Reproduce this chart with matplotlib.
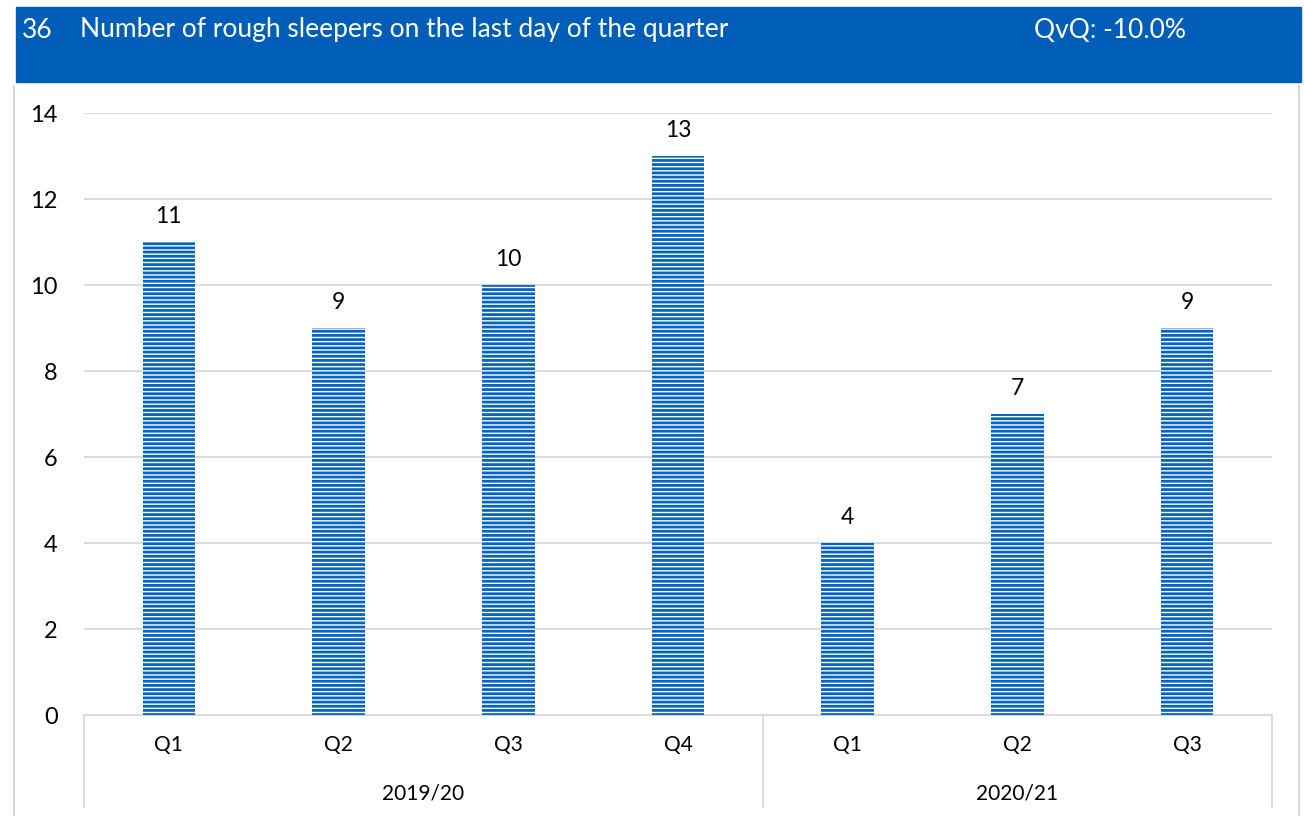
import matplotlib.pyplot as plt
from matplotlib.patches import Rectangle
from matplotlib.lines import Line2D

plt.rcParams['font.family'] = ['Lato', 'DejaVu Sans']
plt.rcParams['hatch.linewidth'] = 2.0

quarters = ['Q1', 'Q2', 'Q3', 'Q4', 'Q1', 'Q2', 'Q3']
years = ['2019/20', '2020/21']
year_sizes = [4, 3]
values = [11, 9, 10, 13, 4, 7, 9]

blue = '#005EB8'
bar_blue = '#0563C1'
grey = '#D9D9D9'

W, H = 1304, 816
fig = plt.figure(figsize=(W / 100, H / 100), dpi=100)

def fx(px):
    return px / W

def fy(py):
    return 1 - py / H

# header band
fig.patches.append(Rectangle((fx(16), fy(82)), fx(1301) - fx(16), fy(7) - fy(82),
                             transform=fig.transFigure, color=blue, zorder=0))
fig.text(fx(22), fy(30), '36', color='white', fontsize=19, va='center', ha='left')
fig.text(fx(80), fy(30), 'Number of rough sleepers on the last day of the quarter',
         color='white', fontsize=19, va='center', ha='left')
fig.text(fx(1034), fy(30), 'QvQ: -10.0%', color='white', fontsize=19, va='center', ha='left')

# chart frame
fig.lines.append(Line2D([fx(14), fx(14)], [fy(86), 0], transform=fig.transFigure, color=grey, lw=1.5))
fig.lines.append(Line2D([fx(1299), fx(1299)], [fy(86), 0], transform=fig.transFigure, color=grey, lw=1.5))

ax = fig.add_axes([fx(84), fy(715), fx(1272) - fx(84), fy(113) - fy(715)])
x = list(range(len(values)))
ax.bar(x, values, width=0.31, facecolor='white', edgecolor=bar_blue, hatch='----',
       linewidth=0, zorder=3)
for xi, v in zip(x, values):
    ax.text(xi, v + 0.35, str(v), ha='center', va='bottom', fontsize=16.5, color='black')

ax.set_xlim(-0.5, len(values) - 0.5)
ax.set_ylim(0, 14)
ax.set_yticks(range(0, 15, 2))
ax.yaxis.grid(True, color=grey, lw=1.3)
ax.set_axisbelow(True)
for s in ['top', 'right', 'left']:
    ax.spines[s].set_visible(False)
ax.spines['bottom'].set_color(grey)
ax.spines['bottom'].set_linewidth(1.3)
ax.tick_params(axis='y', length=0, pad=19, labelsize=17)
ax.set_xticks([])

# two-level category axis
trans = ax.get_xaxis_transform()
for xi, q in zip(x, quarters):
    ax.text(xi, -30 / 602, q, transform=trans, ha='center', va='center', fontsize=15)
start = 0
bounds = [-0.5]
for yr, n in zip(years, year_sizes):
    mid = start + (n - 1) / 2
    ax.text(mid, -78 / 602, yr, transform=trans, ha='center', va='center', fontsize=15)
    start += n
    bounds.append(start - 0.5)
for b in bounds:
    ax.plot([b, b], [0, -92 / 602], transform=trans, color=grey, lw=1.3, clip_on=False)

fig.savefig('out.png', dpi=100)
